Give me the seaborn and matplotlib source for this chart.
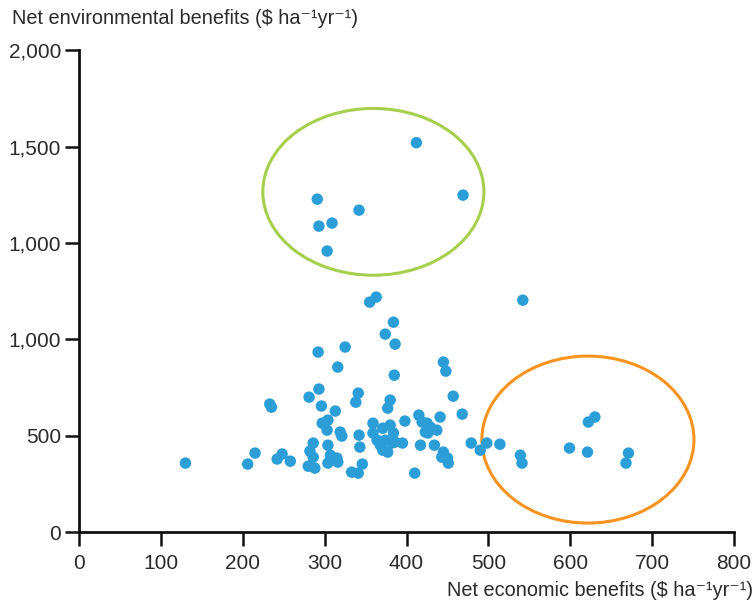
import matplotlib
matplotlib.use("Agg")
import matplotlib.pyplot as plt
from matplotlib.patches import Ellipse
import seaborn as sns
import pandas as pd

# values (axis units)
econ = [412, 469, 291, 342, 293, 309, 303,
        355, 363, 542, 384, 374, 386, 292, 325, 316, 445, 448, 385,
        293, 341, 338, 281, 233, 235, 296, 313, 457, 380, 377, 468,
        297, 304, 303, 319, 321, 342, 343,
        130, 206, 215, 242, 248, 258, 286, 282, 286, 280, 288, 304, 307, 315,
        304, 316, 333, 341, 346,
        359, 359, 364, 368, 371, 377, 382, 384, 380, 371, 374, 386, 395, 398,
        415, 419, 425, 429, 423, 426, 437, 441, 417, 434, 445, 443, 450, 451,
        410, 479, 490, 498, 514, 539, 541, 599, 622, 630, 621, 671, 668]
env = [2020, 1748, 1727, 1670, 1587, 1603, 1458,
       1193, 1219, 1203, 1089, 1027, 975, 934, 960, 856, 882, 835, 814,
       742, 721, 674, 700, 664, 648, 654, 628, 705, 685, 643, 612,
       565, 581, 529, 519, 498, 503, 441,
       358, 353, 410, 379, 405, 368, 462, 420, 389, 342, 332, 451, 399, 384,
       358, 363, 311, 306, 353,
       565, 514, 477, 451, 425, 415, 462, 514, 555, 539, 477, 467, 462, 576,
       607, 571, 565, 545, 519, 514, 529, 597, 451, 451, 415, 389, 384, 358,
       306, 462, 425, 462, 456, 399, 358, 436, 571, 597, 415, 410, 358]

ytick_pos = [0, 500, 1000, 1500, 2000, 2500]
ytick_labels = ["0", "500", "1,000", "1,000", "1,500", "2,000"]
xtick_pos = [0, 100, 200, 300, 400, 500, 600, 700, 800]

df = pd.DataFrame({"econ": econ, "env": env})

sns.set_style("ticks")
plt.rcParams["font.family"] = ["Liberation Sans", "DejaVu Sans"]

fig = plt.figure(figsize=(7.56, 6.04), dpi=100)
ax = fig.add_axes([0.1045, 0.119, 0.8665, 0.798])

sns.scatterplot(data=df, x="econ", y="env", ax=ax, color="#2b9ed8",
                s=68, edgecolor="none", linewidth=0, zorder=3)

ax.add_patch(Ellipse((359.5, 1765), 270, 865, fill=False,
                     edgecolor="#a5cf4c", linewidth=2.2, zorder=2))
ax.add_patch(Ellipse((621.5, 480), 259, 866, fill=False,
                     edgecolor="#f7931e", linewidth=2.2, zorder=2))

ax.set_xlim(0, 800)
ax.set_ylim(0, 2500)
ax.set_xticks(xtick_pos)
ax.set_xticklabels([str(v) for v in xtick_pos])
ax.set_yticks(ytick_pos)
ax.set_yticklabels(ytick_labels)
ax.set_xlabel("")
ax.set_ylabel("")

sns.despine(ax=ax)
for side in ["left", "bottom"]:
    ax.spines[side].set_linewidth(2.0)
    ax.spines[side].set_color("#111111")
ax.tick_params(axis="both", length=10, width=1.8, color="#111111",
               labelsize=15, labelcolor="#2a2a2a")
ax.tick_params(axis="x", pad=6)
ax.tick_params(axis="y", pad=3)

fig.text(0.016, 0.970, "Net environmental benefits (\\$ ha\u207b\u00b9yr\u207b\u00b9)",
         ha="left", va="center", fontsize=14.3, color="#2a2a2a")
fig.text(0.996, 0.023, "Net economic benefits (\\$ ha\u207b\u00b9yr\u207b\u00b9)",
         ha="right", va="center", fontsize=14.3, color="#2a2a2a")

fig.savefig("out.png", dpi=100)
